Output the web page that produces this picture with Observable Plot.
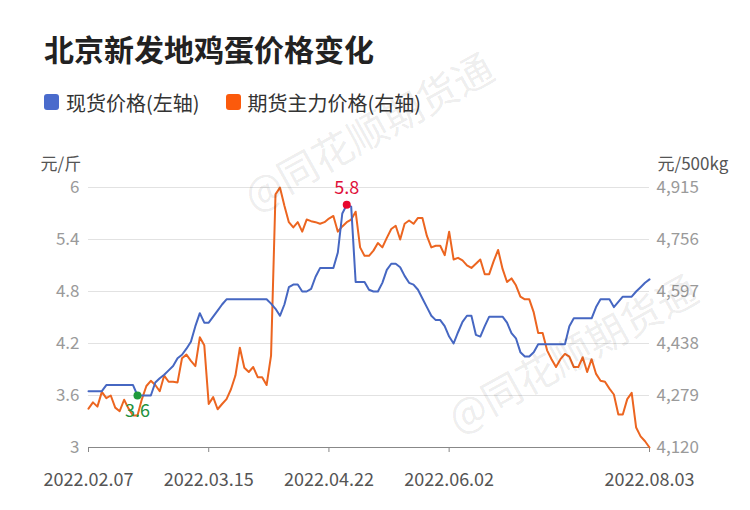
<!DOCTYPE html>
<html>
<head>
<meta charset="utf-8">
<script src="https://cdn.jsdelivr.net/npm/d3@7"></script>
<script src="https://cdn.jsdelivr.net/npm/@observablehq/plot@0.6"></script>
<style>
  html, body { margin: 0; padding: 0; background: #fff; }
  body { width: 750px; height: 510px; position: relative; overflow: hidden; font-family: "Noto Sans CJK SC", "Noto Sans", sans-serif; }
  #title { position: absolute; left: 44px; top: 30px; font-size: 30px; line-height: 36px; font-weight: bold; color: #222; white-space: nowrap; }
  #legend { position: absolute; left: 44px; top: 90px; height: 24px; display: flex; align-items: center; font-size: 20px; color: #333; white-space: nowrap; }
  .item { display: flex; align-items: center; margin-right: 26px; }
  .sw { width: 15px; height: 16px; border-radius: 3px; margin-right: 7px; }
  #chart { position: absolute; left: 0; top: 130px; }
  .wm { position: absolute; font-size: 40px; color: rgba(0,0,0,0.085); white-space: nowrap; transform-origin: 0 0; pointer-events: none; }
</style>
</head>
<body>
<div id="title">北京新发地鸡蛋价格变化</div>
<div id="legend"></div>
<div id="chart"></div>
<div class="wm" style="left:232px; top:172px; transform: rotate(-29deg);">@同花顺期货通</div>
<div class="wm" style="left:436px; top:394px; transform: rotate(-29deg);">@同花顺期货通</div>
<script>
// ---- data ----
const seriesNames = ["现货价格(左轴)", "期货主力价格(右轴)"];
const seriesColors = ["#4667c2", "#ec6520"];
const legendColors = ["#4a6bcc", "#fb5a0c"];
const unitLabels = ["元/斤", "元/500kg"];
const tickDates = ["2022.02.07", "2022.03.15", "2022.04.22", "2022.06.02", "2022.08.03"];
const tickAt = [0, 27, 54, 81, 126];
const leftDomain = [3, 6];
const leftTicks = [3, 3.6, 4.2, 4.8, 5.4, 6];
const rightDomain = [4120, 4915];

// spot price, 元/斤 (left axis)
const spot = [
  3.65, 3.65, 3.65, 3.65, 3.72, 3.72, 3.72, 3.72, 3.72, 3.72,
  3.72, 3.60, 3.60, 3.60, 3.60, 3.75, 3.80, 3.84, 3.89, 3.94,
  4.03, 4.07, 4.14, 4.22, 4.40, 4.55, 4.44, 4.44, 4.51, 4.58,
  4.65, 4.71, 4.71, 4.71, 4.71, 4.71, 4.71, 4.71, 4.71, 4.71,
  4.71, 4.66, 4.60, 4.52, 4.65, 4.85, 4.88, 4.88, 4.80, 4.80,
  4.83, 4.97, 5.07, 5.07, 5.07, 5.07, 5.25, 5.70, 5.80, 5.78,
  4.91, 4.91, 4.91, 4.82, 4.80, 4.80, 4.90, 5.05, 5.12, 5.12,
  5.08, 4.98, 4.90, 4.88, 4.82, 4.72, 4.62, 4.52, 4.47, 4.47,
  4.40, 4.28, 4.20, 4.33, 4.45, 4.52, 4.52, 4.30, 4.28, 4.40,
  4.51, 4.51, 4.51, 4.51, 4.44, 4.32, 4.26, 4.10, 4.05, 4.05,
  4.10, 4.19, 4.19, 4.19, 4.19, 4.19, 4.19, 4.19, 4.40, 4.49,
  4.49, 4.49, 4.49, 4.49, 4.62, 4.71, 4.71, 4.71, 4.62, 4.68,
  4.74, 4.74, 4.74, 4.80, 4.85, 4.90, 4.94
];

// futures main contract, 元/500kg (right axis)
const futures = [
  4239, 4258, 4245, 4290, 4271, 4279, 4242, 4231, 4266, 4239,
  4218, 4218, 4268, 4308, 4324, 4311, 4292, 4340, 4321, 4321,
  4319, 4393, 4404, 4385, 4369, 4457, 4433, 4253, 4274, 4237,
  4253, 4268, 4298, 4340, 4425, 4364, 4351, 4366, 4335, 4335,
  4311, 4401, 4894, 4915, 4859, 4809, 4793, 4809, 4780, 4817,
  4812, 4809, 4804, 4809, 4820, 4828, 4780, 4796, 4809, 4817,
  4841, 4732, 4706, 4706, 4722, 4745, 4732, 4761, 4788, 4798,
  4756, 4804, 4814, 4804, 4822, 4822, 4767, 4732, 4737, 4737,
  4708, 4780, 4695, 4700, 4692, 4677, 4669, 4682, 4695, 4650,
  4650, 4690, 4724, 4666, 4626, 4637, 4616, 4581, 4573, 4573,
  4533, 4470, 4470, 4417, 4390, 4366, 4390, 4406, 4398, 4366,
  4366, 4396, 4351, 4390, 4345, 4324, 4321, 4300, 4282, 4221,
  4221, 4268, 4287, 4181, 4154, 4139, 4120
];

// ---- legend ----
const legend = document.getElementById("legend");
seriesNames.forEach((n, k) => {
  const it = document.createElement("div");
  it.className = "item";
  it.innerHTML = `<span class="sw" style="background:${legendColors[k]}"></span><span>${n}</span>`;
  legend.appendChild(it);
});

// ---- scales mapping ----
const toLeft = v => leftDomain[0] + (v - rightDomain[0]) / (rightDomain[1] - rightDomain[0]) * (leftDomain[1] - leftDomain[0]);
const toRight = d => rightDomain[0] + (d - leftDomain[0]) / (leftDomain[1] - leftDomain[0]) * (rightDomain[1] - rightDomain[0]);
const fmtR = d3.format(",");

const idx = d3.range(spot.length);
const iMin = d3.minIndex(spot);
const iMax = d3.maxIndex(spot);
const fontFamily = '"Noto Sans CJK SC", "Noto Sans", sans-serif';

const chart = Plot.plot({
  width: 750,
  height: 380,
  marginLeft: 88,
  marginRight: 101,
  marginTop: 57,
  marginBottom: 63,
  style: { fontFamily, background: "transparent", overflow: "visible" },
  x: { domain: [0, spot.length - 1], axis: null },
  y: { domain: leftDomain, axis: null },
  marks: [
    Plot.ruleY(leftTicks.slice(1), { stroke: "#e2e2e2", strokeWidth: 1 }),
    Plot.axisY(leftTicks, { anchor: "left", tickSize: 0, tickPadding: 9, fontSize: 17, fill: "#9a9a9a", tickFormat: d => String(+d.toFixed(1)) }),
    Plot.axisY(leftTicks, { anchor: "right", tickSize: 0, tickPadding: 7, fontSize: 17, fill: "#9a9a9a", tickFormat: d => fmtR(Math.round(toRight(d))) }),
    Plot.axisX(tickAt, { anchor: "bottom", tickSize: 5, tickPadding: 21, fontSize: 18, fill: "#555", stroke: "#888", tickFormat: i => tickDates[tickAt.indexOf(i)] }),
    Plot.ruleY([leftDomain[0]], { stroke: "#888", strokeWidth: 1 }),
    Plot.text([unitLabels[0]], { frameAnchor: "top-left", textAnchor: "start", dx: -48, dy: -30, fontSize: 17, fill: "#555" }),
    Plot.text([unitLabels[1]], { frameAnchor: "top-right", textAnchor: "start", dx: 8, dy: -30, fontSize: 17, fill: "#555" }),
    Plot.line(idx, { x: i => i, y: i => toLeft(futures[i]), stroke: seriesColors[1], strokeWidth: 2, curve: "linear" }),
    Plot.line(idx, { x: i => i, y: i => spot[i], stroke: seriesColors[0], strokeWidth: 2, curve: "linear" }),
    Plot.dot([iMin], { x: i => i, y: i => spot[i], r: 4, fill: "#1f9a3c", stroke: "none" }),
    Plot.text([iMin], { x: i => i, y: i => spot[i], text: i => String(spot[i]), dy: 16, fontSize: 18, fill: "#23913c" }),
    Plot.dot([iMax], { x: i => i, y: i => spot[i], r: 4, fill: "#e8062e", stroke: "none" }),
    Plot.text([iMax], { x: i => i, y: i => spot[i], text: i => String(spot[i]), dy: -17, fontSize: 18, fill: "#e0103a" })
  ]
});
document.getElementById("chart").appendChild(chart);
</script>
</body>
</html>
